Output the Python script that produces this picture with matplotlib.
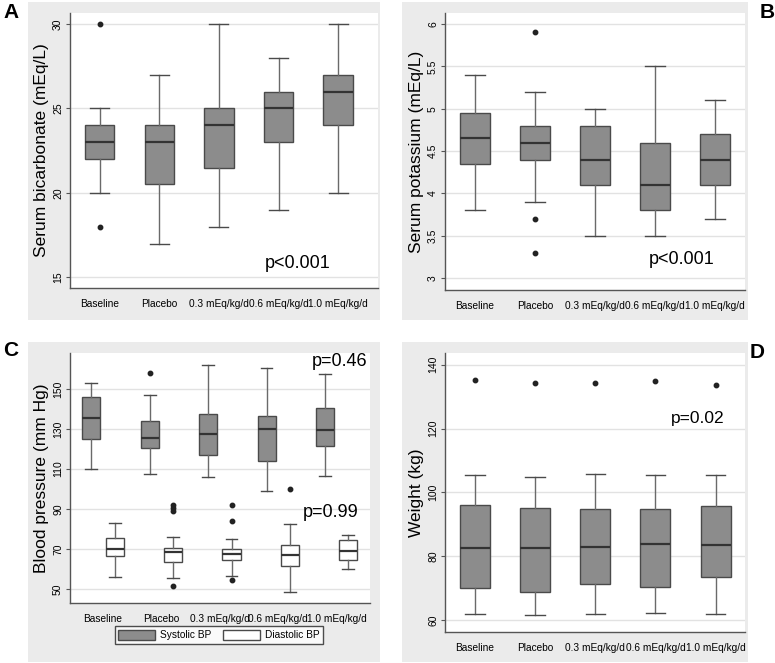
#!/usr/bin/env python3
"""
Four-panel box plot figure: bicarbonate, potassium, blood pressure, weight
by treatment group (Stata-like look).
"""
import matplotlib
matplotlib.use('Agg')
import matplotlib.pyplot as plt
from matplotlib.patches import Rectangle, Patch

NARROW = ['Liberation Sans Narrow', 'Liberation Sans', 'DejaVu Sans']
REGULAR = ['Liberation Sans', 'DejaVu Sans']

groups = ['Baseline', 'Placebo', '0.3 mEq/kg/d', '0.6 mEq/kg/d', '1.0 mEq/kg/d']

# A: serum bicarbonate (mEq/L)
bicarb_lo = [20, 17, 18, 19, 20]
bicarb_q1 = [22, 20.5, 21.5, 23, 24]
bicarb_med = [23, 23, 24, 25, 26]
bicarb_q3 = [24, 24, 25, 26, 27]
bicarb_hi = [25, 27, 30, 28, 30]
bicarb_out = [[30, 18], [], [], [], []]

# B: serum potassium (mEq/L)
potas_lo = [3.8, 3.9, 3.5, 3.5, 3.7]
potas_q1 = [4.35, 4.4, 4.1, 3.8, 4.1]
potas_med = [4.65, 4.6, 4.4, 4.1, 4.4]
potas_q3 = [4.95, 4.8, 4.8, 4.6, 4.7]
potas_hi = [5.4, 5.2, 5.0, 5.5, 5.1]
potas_out = [[], [5.9, 3.7, 3.3], [], [], []]

# C: systolic / diastolic blood pressure (mm Hg)
sbp_lo = [110, 107.5, 106, 99, 106.7]
sbp_q1 = [125, 120.6, 117, 113.8, 121.5]
sbp_med = [135.4, 125.5, 127.5, 130.2, 129.5]
sbp_q3 = [145.8, 133.8, 137.4, 136.4, 140.4]
sbp_hi = [153.2, 147, 162.2, 160.5, 157.7]
sbp_out = [[], [158], [], [], []]

dbp_lo = [56, 55.7, 56.5, 48.5, 60.1]
dbp_q1 = [66.3, 63.5, 64.5, 61.3, 64.3]
dbp_med = [70.2, 68.3, 67.5, 66.8, 69.2]
dbp_q3 = [75.4, 70.7, 69.8, 72, 74.7]
dbp_hi = [82.8, 76.2, 75, 82.5, 77.2]
dbp_out = [[], [92, 90.5, 89, 51.3], [91.8, 84, 54.5], [100], []]

# D: weight (kg)
wt_lo = [61.8, 61.4, 61.9, 62.1, 61.8]
wt_q1 = [70, 68.9, 71.1, 70.3, 73.5]
wt_med = [82.7, 82.7, 82.9, 83.8, 83.6]
wt_q3 = [96, 95, 94.8, 94.8, 95.7]
wt_hi = [105.3, 104.9, 105.9, 105.5, 105.5]
wt_out = [[135.3], [134.2], [134.3], [135.0], [133.7]]

W, H = 775, 663
BOX_GREY = '#8c8c8c'
EDGE = '#4a4a4a'
PANEL_BG = '#ebebeb'


def make_stats(lo, q1, med, q3, hi, out):
    return [dict(whislo=a, q1=b, med=c, q3=d, whishi=e, fliers=f)
            for a, b, c, d, e, f in zip(lo, q1, med, q3, hi, out)]


def draw_boxes(ax, stats, positions, width, face):
    ax.bxp(stats, positions=positions, widths=width, patch_artist=True,
           capwidths=width * 0.65, manage_ticks=False,
           boxprops=dict(facecolor=face, edgecolor=EDGE, linewidth=1.0),
           medianprops=dict(color='#333333', linewidth=1.6),
           whiskerprops=dict(color='#6a6a6a', linewidth=1.0),
           capprops=dict(color='#4a4a4a', linewidth=1.0),
           flierprops=dict(marker='o', markersize=3.2, markerfacecolor='#222222',
                           markeredgecolor='#222222'))


def style_axes(ax, ticks, ylim, xlim, ylabel, xpos):
    ax.set_facecolor('white')
    ax.set_ylim(*ylim)
    ax.set_xlim(*xlim)
    ax.set_yticks(ticks)
    ax.set_yticklabels([f'{t:g}' for t in ticks], rotation=90, va='center',
                       family=NARROW, fontsize=7.5)
    ax.set_xticks(xpos)
    ax.set_xticklabels(groups, family=NARROW, fontsize=7.3)
    ax.tick_params(axis='x', length=0, pad=8)
    ax.tick_params(axis='y', length=3, width=0.8, color='#555555', pad=2)
    for s in ['top', 'right']:
        ax.spines[s].set_visible(False)
    for s in ['left', 'bottom']:
        ax.spines[s].set_color('#555555')
        ax.spines[s].set_linewidth(1.0)
    ax.grid(axis='y', color='#e2e2e2', linewidth=1.0)
    ax.set_axisbelow(True)
    ax.set_ylabel(ylabel, family=REGULAR, fontsize=12.5, labelpad=3)


def axes_rect(x0, y0, x1, y1):
    return [x0 / W, 1 - y1 / H, (x1 - x0) / W, (y1 - y0) / H]


fig = plt.figure(figsize=(W / 100, H / 100), dpi=100)
fig.patch.set_facecolor('white')

# grey panel backgrounds
for x0, y0, x1, y1 in [(28, 2, 380, 320), (402, 2, 748, 320),
                       (28, 342, 380, 662), (402, 342, 748, 662)]:
    fig.patches.append(Rectangle((x0 / W, 1 - y1 / H), (x1 - x0) / W, (y1 - y0) / H,
                                 transform=fig.transFigure, facecolor=PANEL_BG,
                                 edgecolor='none', zorder=-10))

pos = [1, 2, 3, 4, 5]

# A
axA = fig.add_axes(axes_rect(70, 13, 378, 288))
draw_boxes(axA, make_stats(bicarb_lo, bicarb_q1, bicarb_med, bicarb_q3, bicarb_hi, bicarb_out),
           pos, 0.49, BOX_GREY)
style_axes(axA, [15, 20, 25, 30], (14.37, 30.65), (0.5, 5.67),
           'Serum bicarbonate (mEq/L)', pos)
axA.text(4.32, 15.85, 'p<0.001', ha='center', va='center', family=REGULAR, fontsize=13)

# B
axB = fig.add_axes(axes_rect(445, 13, 745, 290))
draw_boxes(axB, make_stats(potas_lo, potas_q1, potas_med, potas_q3, potas_hi, potas_out),
           pos, 0.5, BOX_GREY)
style_axes(axB, [3, 3.5, 4, 4.5, 5, 5.5, 6], (2.86, 6.13), (0.5, 5.5),
           'Serum potassium (mEq/L)', pos)
axB.text(4.45, 3.22, 'p<0.001', ha='center', va='center', family=REGULAR, fontsize=13)

# C
axC = fig.add_axes(axes_rect(70, 353, 370, 603))
off = 0.2
draw_boxes(axC, make_stats(sbp_lo, sbp_q1, sbp_med, sbp_q3, sbp_hi, sbp_out),
           [p - off for p in pos], 0.31, BOX_GREY)
draw_boxes(axC, make_stats(dbp_lo, dbp_q1, dbp_med, dbp_q3, dbp_hi, dbp_out),
           [p + off for p in pos], 0.31, 'white')
style_axes(axC, [50, 70, 90, 110, 130, 150], (43, 168), (0.436, 5.57),
           'Blood pressure (mm Hg)', pos)
axC.text(5.05, 163.9, 'p=0.46', ha='center', va='center', family=REGULAR, fontsize=13)
axC.text(4.9, 88.2, 'p=0.99', ha='center', va='center', family=REGULAR, fontsize=13)
handles = [Patch(facecolor=BOX_GREY, edgecolor=EDGE, label='Systolic BP'),
           Patch(facecolor='white', edgecolor=EDGE, label='Diastolic BP')]
leg = fig.legend(handles=handles, loc='center', ncol=2,
                 bbox_to_anchor=(219 / W, 1 - 635 / H),
                 prop=dict(family=NARROW, size=7.3), frameon=True, fancybox=False,
                 handlelength=3.6, handleheight=1.2, columnspacing=1.2,
                 borderpad=0.35, handletextpad=0.5)
leg.get_frame().set_edgecolor('#222222')
leg.get_frame().set_linewidth(1.0)

# D
axD = fig.add_axes(axes_rect(445, 353, 745, 632))
draw_boxes(axD, make_stats(wt_lo, wt_q1, wt_med, wt_q3, wt_hi, wt_out),
           pos, 0.5, BOX_GREY)
style_axes(axD, [60, 80, 100, 120, 140], (56.2, 143.7), (0.5, 5.49),
           'Weight (kg)', pos)
axD.text(4.70, 123.2, 'p=0.02', ha='center', va='center', family=REGULAR, fontsize=12.5)

# panel letters
for lbl, x, y in [('A', 11, 13), ('B', 767, 13), ('C', 11, 351), ('D', 757, 352)]:
    fig.text(x / W, 1 - y / H, lbl, ha='center', va='center', family=REGULAR,
             fontsize=15, fontweight='bold')

fig.savefig('out.png', dpi=100)
